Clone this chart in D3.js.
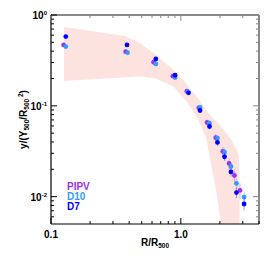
<!DOCTYPE html>
<html>
<head>
<meta charset="utf-8">
<script src="https://cdn.jsdelivr.net/npm/d3@7"></script>
<style>
  body { margin: 0; background: #fff; }
  text { font-family: "Liberation Sans", Arial, sans-serif; font-weight: bold; }
</style>
</head>
<body>
<svg id="chart"></svg>
<script>
// 各シリーズのデータ (R/R500, y)
const radiiPIPV = [0.125, 0.376, 0.617, 0.868, 1.112, 1.374, 1.593, 1.858, 2.104, 2.352, 2.588, 2.857];
const yPIPV     = [0.468, 0.395, 0.302, 0.212, 0.145, 0.095, 0.0655, 0.0445, 0.0315, 0.0232, 0.0171, 0.0117];
const errPIPV   = [0.03, 0.03, 0.03, 0.04, 0.05, 0.06, 0.08, 0.10, 0.12, 0.14, 0.17, 0.20];

const radiiD10 = [0.130, 0.389, 0.642, 0.903, 1.130, 1.406, 1.663, 1.914, 2.172, 2.432, 2.682, 3.07];
const yD10     = [0.449, 0.385, 0.289, 0.205, 0.1425, 0.0958, 0.0645, 0.0442, 0.031, 0.0215, 0.014, 0.0099];
const errD10   = [0.03, 0.03, 0.03, 0.04, 0.05, 0.06, 0.07, 0.08, 0.10, 0.11, 0.13, 0.15];

const radiiD7 = [0.130, 0.385, 0.642, 0.903, 1.146, 1.406, 1.663, 1.914, 2.172, 2.432, 2.682, 3.07];
const yD7     = [0.578, 0.468, 0.328, 0.217, 0.139, 0.0888, 0.0592, 0.0395, 0.0275, 0.0187, 0.0111, 0.0083];
const errD7   = [0.03, 0.03, 0.03, 0.04, 0.05, 0.06, 0.07, 0.08, 0.10, 0.11, 0.13, 0.15];

// 帯 (上側・下側の境界)
const bandUpperR = [0.126, 0.371, 0.484, 0.631, 0.823, 1.041, 1.321, 1.671, 2.142, 2.455, 2.697, 2.809, 2.843];
const bandUpperY = [0.738, 0.588, 0.492, 0.373, 0.270, 0.193, 0.1265, 0.0796, 0.0545, 0.0423, 0.0328, 0.0275, 0.004];
const bandLowerR = [2.08, 1.882, 1.722, 1.576, 1.45, 1.321, 1.106, 0.873, 0.631, 0.484, 0.126];
const bandLowerY = [0.004, 0.01106, 0.0215, 0.0423, 0.0573, 0.0763, 0.1115, 0.163, 0.2015, 0.21, 0.188];

const seriesNames = ['PIPV', 'D10', 'D7'];
const seriesColors = ['#9933ee', '#3399ff', '#0000ff'];

const xTickMajor = [0.1, 1.0];
const xTickMinor = [0.2, 0.3, 0.4, 0.5, 0.6, 0.7, 0.8, 0.9, 2, 3, 4];
const yTickMajor = [1, 0.1, 0.01];
const yTickExp   = ['0', '-1', '-2'];
const yTickMinor = [0.006, 0.007, 0.008, 0.009, 0.02, 0.03, 0.04, 0.05, 0.06, 0.07, 0.08, 0.09,
                    0.2, 0.3, 0.4, 0.5, 0.6, 0.7, 0.8, 0.9];

class ProfileChart {
    constructor (config) {
        this.config = {
            parent: config.parent,
            width: config.width || 274,
            height: config.height || 257,
            margin: config.margin || {top:15, right:15, bottom:33, left:51}
        };
        this.init();
    }

    init() {
        let self = this;
        const m = self.config.margin;

        self.svg = d3.select(self.config.parent)
            .attr('width', self.config.width)
            .attr('height', self.config.height);

        self.inner_width = self.config.width - m.left - m.right;
        self.inner_height = self.config.height - m.top - m.bottom;

        self.chart = self.svg.append('g')
            .attr('transform', `translate(${m.left}, ${m.top})`);

        self.xscale = d3.scaleLog().domain([0.1, 4]).range([0, self.inner_width]);
        self.yscale = d3.scaleLog().domain([0.005, 1]).range([self.inner_height, 0]);

        self.chart.append('defs').append('clipPath')
            .attr('id', 'clip')
            .append('rect')
            .attr('width', self.inner_width)
            .attr('height', self.inner_height);
    }

    render() {
        let self = this;
        const W = self.inner_width, H = self.inner_height;
        const x = self.xscale, y = self.yscale;

        //帯
        const bandPts = bandUpperR.map((r, i) => [r, bandUpperY[i]])
            .concat(bandLowerR.map((r, i) => [r, bandLowerY[i]]));
        self.chart.append('path')
            .datum(bandPts)
            .attr('clip-path', 'url(#clip)')
            .attr('fill', '#fde3df')
            .attr('d', d3.line().x(d => x(d[0])).y(d => y(d[1])).curve(d3.curveLinearClosed));

        //データ点
        const series = [
            {r: radiiPIPV, v: yPIPV, e: errPIPV},
            {r: radiiD10, v: yD10, e: errD10},
            {r: radiiD7, v: yD7, e: errD7}
        ];
        series.forEach((s, k) => {
            const pts = s.r.map((r, i) => ({r: r, v: s.v[i], e: s.e[i]}));
            const g = self.chart.append('g');
            g.selectAll('line').data(pts).join('line')
                .attr('x1', d => x(d.r)).attr('x2', d => x(d.r))
                .attr('y1', d => y(d.v * (1 + d.e))).attr('y2', d => y(d.v * (1 - d.e)))
                .attr('stroke', seriesColors[k])
                .attr('stroke-opacity', 0.4)
                .attr('stroke-width', 1);
            g.selectAll('circle').data(pts).join('circle')
                .attr('cx', d => x(d.r)).attr('cy', d => y(d.v))
                .attr('r', 2.4)
                .attr('fill', seriesColors[k]);
        });

        //枠と目盛り
        const gray = '#888';
        self.chart.append('line').attr('x1', 0).attr('x2', W).attr('y1', 0).attr('y2', 0)
            .attr('stroke', gray).attr('stroke-width', 2);
        self.chart.append('line').attr('x1', W).attr('x2', W).attr('y1', 0).attr('y2', H)
            .attr('stroke', gray).attr('stroke-width', 2);
        self.chart.append('line').attr('x1', 0).attr('x2', W).attr('y1', H).attr('y2', H)
            .attr('stroke', '#000').attr('stroke-width', 1.2);
        self.chart.append('line').attr('x1', 0).attr('x2', 0).attr('y1', 0).attr('y2', H)
            .attr('stroke', '#000').attr('stroke-width', 1.2);

        const ticks = self.chart.append('g');
        const addX = (vals, len) => {
            vals.forEach(v => {
                ticks.append('line').attr('x1', x(v)).attr('x2', x(v))
                    .attr('y1', H).attr('y2', H - len).attr('stroke', '#000');
                ticks.append('line').attr('x1', x(v)).attr('x2', x(v))
                    .attr('y1', 0).attr('y2', len).attr('stroke', gray);
            });
        };
        const addY = (vals, len) => {
            vals.forEach(v => {
                ticks.append('line').attr('x1', 0).attr('x2', len)
                    .attr('y1', y(v)).attr('y2', y(v)).attr('stroke', '#000');
                ticks.append('line').attr('x1', W - len).attr('x2', W)
                    .attr('y1', y(v)).attr('y2', y(v)).attr('stroke', gray);
            });
        };
        addX(xTickMajor, 6);
        addX(xTickMinor, 3);
        addY(yTickMajor, 6);
        addY(yTickMinor, 3);

        //目盛りラベル
        xTickMajor.forEach(v => {
            self.chart.append('text')
                .attr('x', x(v)).attr('y', H + 14)
                .attr('text-anchor', 'middle')
                .style('font-size', '10px')
                .text(d3.format('.1f')(v));
        });
        yTickMajor.forEach((v, i) => {
            const t = self.chart.append('text')
                .attr('x', -4).attr('y', y(v) + 4)
                .attr('text-anchor', 'end')
                .style('font-size', '10px');
            t.append('tspan').text('10');
            t.append('tspan').attr('dy', -4).style('font-size', '6px').text(yTickExp[i]);
        });

        //軸ラベル
        const xl = self.svg.append('text')
            .attr('x', self.config.margin.left + W / 2)
            .attr('y', 246)
            .attr('text-anchor', 'middle')
            .style('font-size', '10px');
        xl.append('tspan').text('R/R');
        xl.append('tspan').attr('dy', 2).style('font-size', '6.5px').text('500');

        const yl = self.svg.append('text')
            .attr('transform', `translate(27, ${self.config.margin.top + H / 2}) rotate(-90)`)
            .attr('text-anchor', 'middle')
            .style('font-size', '10px');
        yl.append('tspan').text('y/(Y');
        yl.append('tspan').attr('dy', 2).style('font-size', '6.5px').text('500');
        yl.append('tspan').attr('dy', -2).text('/R');
        yl.append('tspan').attr('dy', 2).style('font-size', '6.5px').text('500');
        yl.append('tspan').attr('dy', -6).style('font-size', '6.5px').text(' 2');
        yl.append('tspan').attr('dy', 4).text(')');

        //凡例
        seriesNames.forEach((n, i) => {
            self.svg.append('text')
                .attr('x', 67)
                .attr('y', 190 + i * 9.8)
                .style('font-size', '10px')
                .attr('fill', seriesColors[i])
                .text(n);
        });
    }
}

const chart = new ProfileChart({parent: '#chart', width: 274, height: 257});
chart.render();
</script>
</body>
</html>
